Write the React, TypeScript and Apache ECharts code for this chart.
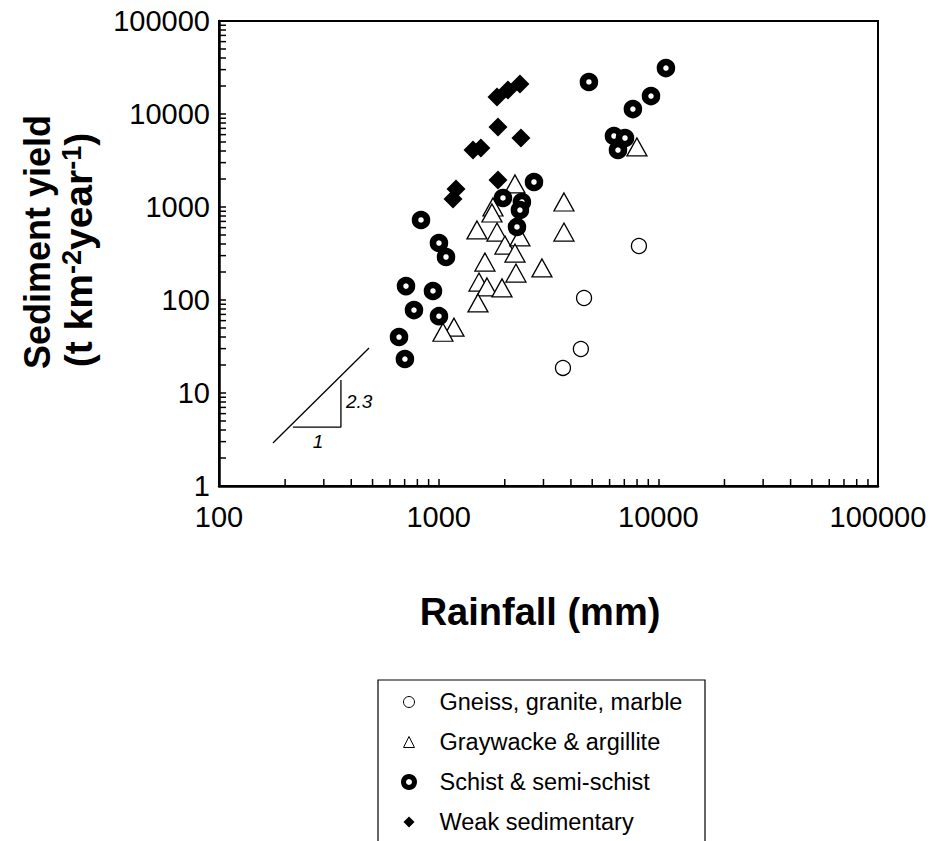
import React, { useEffect, useRef } from 'react';
import * as echarts from 'echarts';

const FONT = "'Liberation Sans', Arial, Helvetica, sans-serif";

// [rainfall (mm), sediment yield (t km-2 year-1)]
const gneiss: [number, number][] = [
  [3680, 18.6], [4440, 29.7], [4590, 105], [8160, 381],
];

const graywacke: [number, number][] = [
  [2225, 1768], [1767, 1000], [1748, 862], [3718, 1132], [3718, 538],
  [1494, 566], [1843, 538], [2003, 390], [2344, 476], [2225, 320],
  [1624, 256], [2953, 221], [2248, 195], [1526, 156], [1659, 138],
  [1942, 135], [1510, 93], [1174, 51], [1046, 45], [7990, 4420],
];

const schist: [number, number][] = [
  [2716, 1857], [1962, 1250], [2393, 1132], [2344, 928], [2272, 610],
  [831, 725], [1003, 410], [1080, 290], [710, 141], [942, 125],
  [772, 78], [1003, 67], [660, 40], [702, 23.2], [4830, 22100],
  [10830, 31200], [9260, 15600], [7660, 11300], [6280, 5800], [7050, 5520],
  [6550, 4100],
];

const weakSed: [number, number][] = [
  [1843, 15230], [2067, 18120], [2344, 21020], [1862, 7250], [2369, 5520],
  [1433, 4100], [1557, 4310], [1862, 1950], [1199, 1560], [1162, 1220],
];

const slopeLine: [number, number][] = [[176, 2.9], [482, 30.5]];
const slopeLegs: [number, number][] = [[217, 4.3], [359, 4.3], [359, 13.8]];

const minorMultipliers = [2, 3, 4, 5, 6, 7, 8, 9];
const xDecades = [100, 1000, 10000];
const yDecades = [1, 10, 100, 1000, 10000];
const xMinorTicks = xDecades.flatMap((d) => minorMultipliers.map((m) => m * d));
const yMinorTicks = yDecades.flatMap((d) => minorMultipliers.map((m) => m * d));

const seriesNames = [
  'Gneiss, granite, marble',
  'Graywacke & argillite',
  'Schist & semi-schist',
  'Weak sedimentary',
];

export default function App() {
  const ref = useRef<HTMLDivElement>(null);

  useEffect(() => {
    document.body.style.margin = '0';
    const chart = echarts.init(ref.current!, null, { renderer: 'svg' });
    const labelFmt = (v: number) => String(Math.round(v));
    chart.setOption({
      animation: false,
      backgroundColor: '#fff',
      grid: {
        left: 219, top: 21, right: 56, bottom: 355,
        show: true, borderColor: '#000', borderWidth: 2, backgroundColor: 'transparent',
      },
      xAxis: {
        type: 'log', logBase: 10, min: 100, max: 100000,
        axisLine: { show: true, lineStyle: { color: '#000', width: 2.5 } },
        axisTick: { show: true, inside: true, length: 7, lineStyle: { color: '#000', width: 1.5 } },
        axisLabel: { fontSize: 29, color: '#000', fontFamily: FONT, margin: 16, formatter: labelFmt },
        splitLine: { show: false },
      },
      yAxis: {
        type: 'log', logBase: 10, min: 1, max: 100000,
        axisLine: { show: true, lineStyle: { color: '#000', width: 2.5 } },
        axisTick: { show: true, inside: true, length: 7, lineStyle: { color: '#000', width: 1.5 } },
        axisLabel: { fontSize: 29, color: '#000', fontFamily: FONT, margin: 9, formatter: labelFmt },
        splitLine: { show: false },
      },
      legend: {
        orient: 'vertical',
        left: 378, top: 680,
        padding: [10, 0, 0, 23],
        itemGap: 16,
        itemWidth: 11, itemHeight: 11,
        textStyle: { fontSize: 23.5, color: '#000', fontFamily: FONT, padding: [0, 0, 0, 20], lineHeight: 24 },
        selectedMode: false,
        data: [
          { name: seriesNames[0], icon: 'circle', itemStyle: { color: '#fff', borderColor: '#000', borderWidth: 1 } },
          { name: seriesNames[1], icon: 'triangle', itemStyle: { color: '#fff', borderColor: '#000', borderWidth: 1 } },
          { name: seriesNames[2], icon: 'circle', itemStyle: { color: '#fff', borderColor: '#000', borderWidth: 5 } },
          { name: seriesNames[3], icon: 'diamond', itemStyle: { color: '#000', borderColor: '#000', borderWidth: 0 } },
        ],
      },
      graphic: [
        {
          type: 'rect', silent: true,
          shape: { x: 378, y: 680, width: 327, height: 220 },
          style: { fill: 'none', stroke: '#000', lineWidth: 1.2 },
        },
        {
          type: 'text', x: 37, y: 242, rotation: Math.PI / 2,
          style: {
            text: 'Sediment yield', fontSize: 36, fontWeight: 'bold', fontFamily: FONT,
            fill: '#000', align: 'center', verticalAlign: 'middle',
          },
        },
        {
          type: 'text', x: 78, y: 250, rotation: Math.PI / 2,
          style: {
            text: '(t km{sup|-2}year{sup|-1})', fontSize: 39, fontWeight: 'bold', fontFamily: FONT,
            fill: '#000', align: 'center', verticalAlign: 'middle',
            rich: {
              sup: { fontSize: 27, fontWeight: 'bold', fontFamily: FONT, fill: '#000', verticalAlign: 'top', lineHeight: 39 },
            },
          },
        },
        {
          type: 'text', x: 540, y: 612,
          style: {
            text: 'Rainfall (mm)', fontSize: 38, fontWeight: 'bold', fontFamily: FONT,
            fill: '#000', align: 'center', verticalAlign: 'middle',
          },
        },
        {
          type: 'text', x: 346, y: 401,
          style: { text: '2.3', fontSize: 19, fontStyle: 'italic', fontFamily: FONT, fill: '#000', align: 'left', verticalAlign: 'middle' },
        },
        {
          type: 'text', x: 318, y: 441,
          style: { text: '1', fontSize: 19, fontStyle: 'italic', fontFamily: FONT, fill: '#000', align: 'center', verticalAlign: 'middle' },
        },
      ],
      series: [
        {
          type: 'custom', name: 'xMinorTicks', silent: true, clip: false, z: 5,
          data: xMinorTicks.map((v) => [v, 1]),
          renderItem: (_p: any, api: any) => {
            const p = api.coord([api.value(0), api.value(1)]);
            return { type: 'line', shape: { x1: p[0], y1: p[1], x2: p[0], y2: p[1] - 7 }, style: { stroke: '#000', lineWidth: 1.5 } };
          },
        },
        {
          type: 'custom', name: 'yMinorTicks', silent: true, clip: false, z: 5,
          data: yMinorTicks.map((v) => [100, v]),
          renderItem: (_p: any, api: any) => {
            const p = api.coord([api.value(0), api.value(1)]);
            return { type: 'line', shape: { x1: p[0], y1: p[1], x2: p[0] + 7, y2: p[1] }, style: { stroke: '#000', lineWidth: 1.5 } };
          },
        },
        {
          type: 'line', name: 'slope', data: slopeLine, symbol: 'none', silent: true,
          lineStyle: { color: '#000', width: 1.3 },
        },
        {
          type: 'line', name: 'slopeLegs', data: slopeLegs, symbol: 'none', silent: true,
          lineStyle: { color: '#000', width: 1.3 },
        },
        {
          type: 'scatter', name: seriesNames[0], data: gneiss, symbol: 'circle', symbolSize: 15, z: 2,
          itemStyle: { color: '#fff', borderColor: '#000', borderWidth: 1.3, opacity: 1 },
        },
        {
          type: 'scatter', name: seriesNames[1], data: graywacke, symbol: 'triangle', symbolSize: [20, 18], z: 3,
          itemStyle: { color: '#fff', borderColor: '#000', borderWidth: 1.3, opacity: 1 },
        },
        {
          type: 'scatter', name: seriesNames[2], data: schist, symbol: 'circle', symbolSize: 12, z: 4,
          itemStyle: { color: '#fff', borderColor: '#000', borderWidth: 6.5, opacity: 1 },
        },
        {
          type: 'scatter', name: seriesNames[3], data: weakSed, symbol: 'diamond', symbolSize: 19, z: 5,
          itemStyle: { color: '#000', borderColor: '#000', borderWidth: 0, opacity: 1 },
        },
      ],
    });
    return () => chart.dispose();
  }, []);

  return <div ref={ref} style={{ width: 934, height: 841 }} />;
}
